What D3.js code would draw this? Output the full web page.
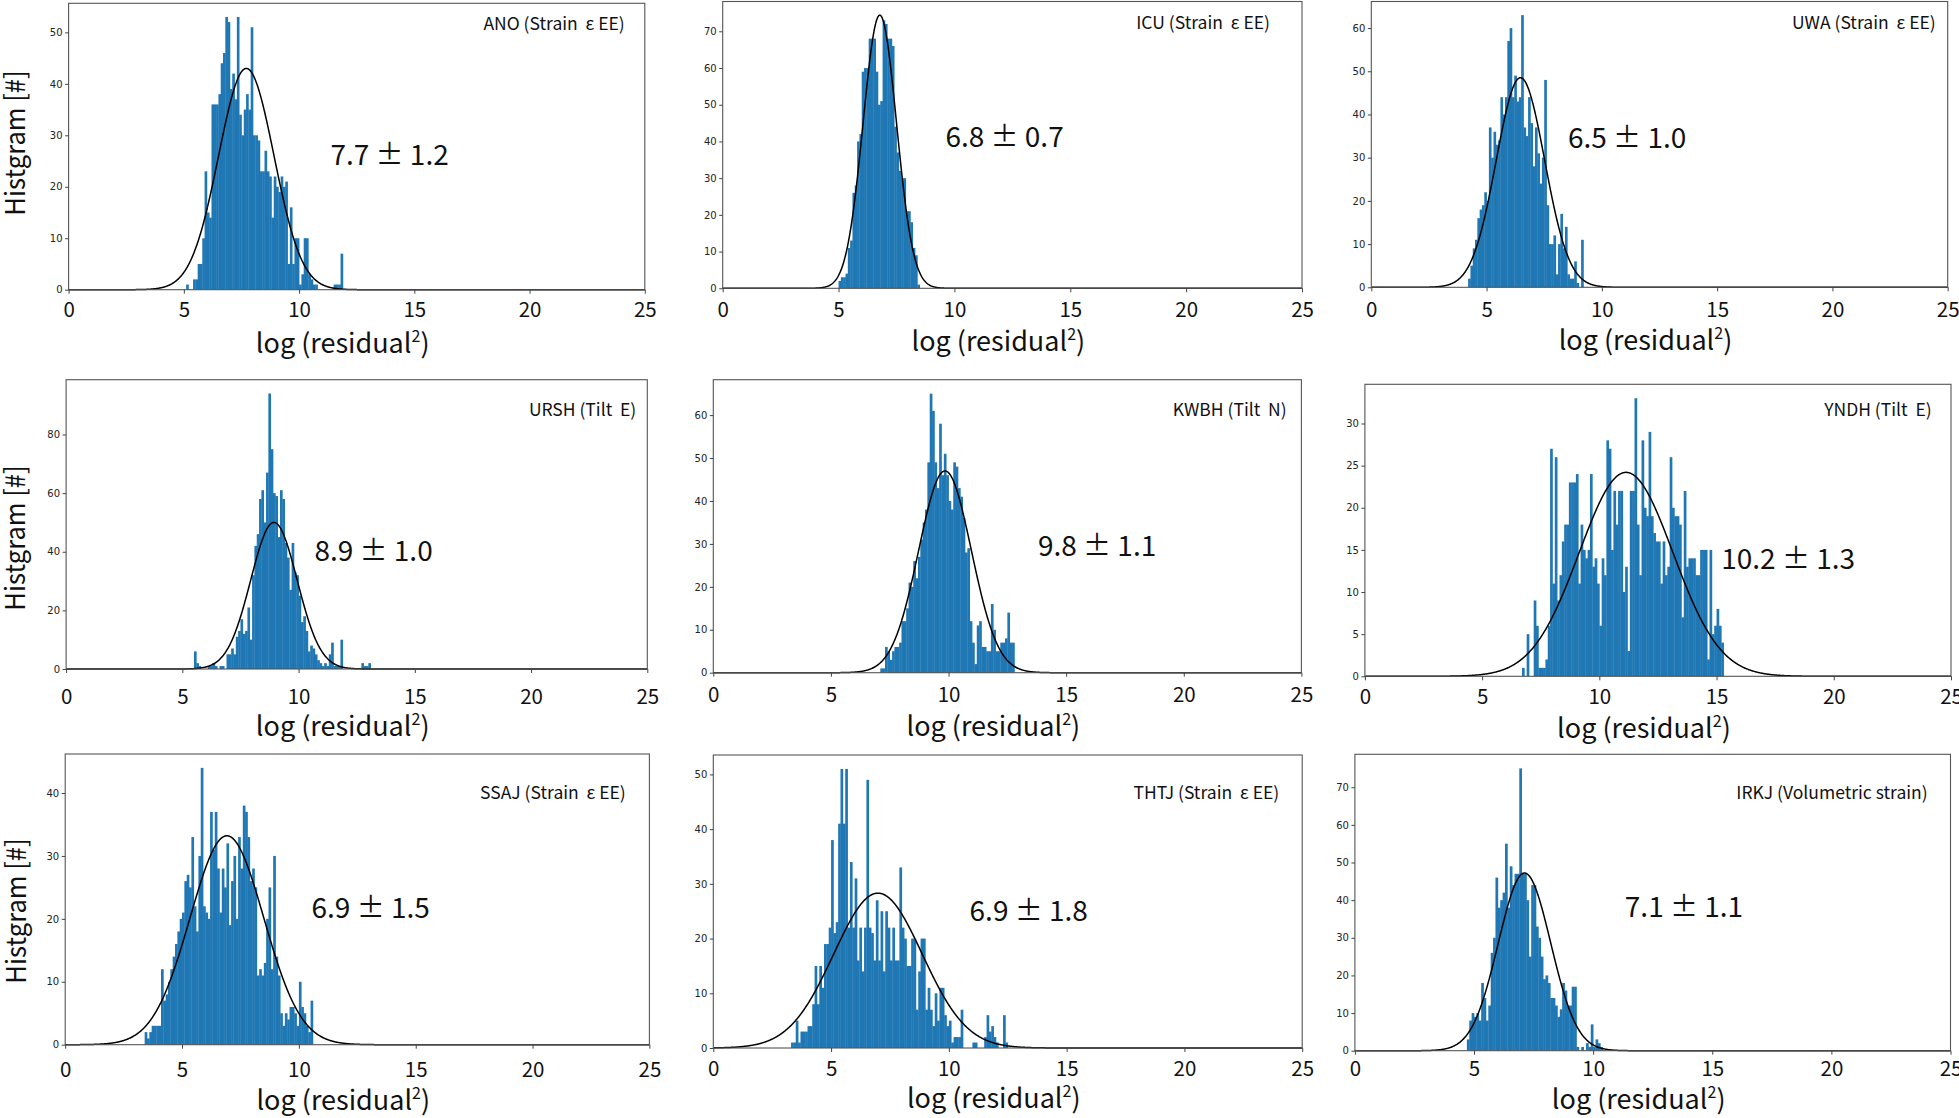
<!DOCTYPE html>
<html><head><meta charset="utf-8">
<script src="https://cdn.jsdelivr.net/npm/d3@7"></script>
<style>body{margin:0;background:#fff} svg{display:block} text{white-space:pre}</style>
</head><body>
<svg id="c" width="1959" height="1118"></svg>
<script>
// ---------------- data ----------------
const stations = ["ANO (Strain  ε EE)", "ICU (Strain  ε EE)", "UWA (Strain  ε EE)",
  "URSH (Tilt  E)", "KWBH (Tilt  N)", "YNDH (Tilt  E)",
  "SSAJ (Strain  ε EE)", "THTJ (Strain  ε EE)", "IRKJ (Volumetric strain)"];
const statMean = ["7.7", "6.8", "6.5", "8.9", "9.8", "10.2", "6.9", "6.9", "7.1"];
const statSd   = ["1.2", "0.7", "1.0", "1.0", "1.1", "1.3", "1.5", "1.8", "1.1"];
const xTicks = [0, 5, 10, 15, 20, 25];
const yTickStep = [10, 10, 10, 20, 10, 5, 10, 10, 10];
const binWidth = 0.1;
const binStart = [5.1, 5.0, 4.2, 5.5, 7.1, 6.6, 3.4, 3.3, 4.7];
const counts1 = [1,0,0,2,2,5,5,10,23,15, 14,36,36,36,38,44,46,53,52,39, 42,37,53,34,30,35,38,35,51,30,
  30,29,23,23,27,23,22,14,22,20, 19,22,20,21,5,16,5,10,10,1, 3,10,10,3,2,1,1,0,0,0, 0,0,0,0,1,1,1,7];
const counts2 = [2,3,3,4,11,13,26,28,40,42, 59,60,60,68,68,68,59,50,51,73, 72,68,68,66,44,37,32,30,30,21, 21,18,11,9,1];
const counts3 = [2,5,9,11,16,18,19,22,20,37, 30,36,33,34,44,40,44,57,60,44, 49,43,44,63,37,35,44,38,28,37,
  31,24,30,48,19,10,10,12,3,10, 17,9,14,3,2,2,6,1,0,11];
const counts4 = [6,2,1,0,0,0,1,1,2,1, 0,1,1,0,5,5,7,5,11,13, 17,12,13,21,10,32,42,46,58,61, 50,67,94,75,60,59,45,61,58,43,
  38,27,43,33,32,25,16,18,13,6, 8,7,5,3,2,1,2,1,5,9, 1,1,1,10,0,0,0,0,0,0, 0,0,2,1,1,2];
const counts5 = [1,1,6,5,3,5,6,6,7,12, 12,15,21,20,26,22,27,31,35,38, 49,65,61,49,43,58,46,51,46,40,
  38,49,48,43,41,36,28,29,12,7, 2,11,12,6,6,5,5,16,10,5, 5,7,7,8,14,7,7];
const counts6 = [0,1,0,5,0,0,9,6,1,1, 1,2,6,27,11,26,9,12,16,18, 18,23,23,23,24,11,18,15,14,15, 24,13,14,11,6,14,12,28,27,15,
  22,18,22,22,10,13,3,22,22,33, 18,12,28,20,19,29,19,17,16,16, 11,16,12,13,26,20,19,19,18,7, 22,13,14,14,14,12,12,15,15,15, 2,15,5,6,8,6,4];
const counts7 = [2,1,2,3,3,3,3,12,7,8, 10,12,14,16,18,20,21,26,27,25, 33,22,18,30,44,22,21,20,37,31, 37,28,21,28,25,32,19,26,30,20,
  33,28,38,37,33,26,28,25,11,12, 11,13,20,25,12,30,14,11,5,3, 5,4,6,6,5,3,10,6,5,3, 2,7];
const counts8 = [1,1,5,1,3,3,3,4,4,8, 15,8,15,11,19,19,22,38,21,23, 41,51,41,51,22,34,22,31,16,22, 14,22,49,22,21,16,27,16,25,14,
  25,22,16,22,16,16,33,22,20,15, 15,20,20,7,14,20,20,7,11,7, 4,10,5,11,11,6,4,5,1,2, 2,2,7,0,0,0,0,1,1,0, 0,0,2,6,3,4,2,1,0,0, 6,1];
const counts9 = [3,8,10,9,10,8,18,14,8,12, 26,30,46,38,40,42,55,38,49,44, 47,47,75,47,47,40,25,44,44,33,
  30,25,19,20,18,14,14,12,9,11, 18,16,12,12,17,17,1,0,1,0, 2,1,7,1,3,2,1];
const allCounts = [counts1, counts2, counts3, counts4, counts5, counts6, counts7, counts8, counts9];
// fitted normal curve drawn in each panel (centre, width, height)
const fitMean = [7.71, 6.78, 6.47, 8.94, 9.85, 11.14, 6.92, 6.99, 7.12];
const fitSd   = [1.2, 0.72, 1.05, 1.0, 1.12, 2.0, 1.58, 1.88, 1.1];
const fitPeak = [43, 74.4, 48.5, 50, 47, 24.2, 33.2, 28.3, 47.2];

// ---------------- layout ----------------
const layout = [
  {box:[68.6,3.3,644.8,289.7],   lab:[20,20],    ann:[11.36,26.1], tickDy:20.3, titleDy:53.6},
  {box:[722.7,1.5,1302,288.3],   lab:[32,21.2],  ann:[9.61,41.2],  tickDy:21.7, titleDy:53.4},
  {box:[1371.3,1.5,1947.7,287.3],lab:[12,21.2],  ann:[8.53,34.6],  tickDy:22.7, titleDy:52.7},
  {box:[66.1,379.7,647.3,669],   lab:[11,29.6],  ann:[10.68,40.4], tickDy:27.7, titleDy:57.7},
  {box:[713.3,379.7,1301.4,672.7],lab:[14.7,29.6],ann:[13.8,29.6], tickDy:22.3, titleDy:54},
  {box:[1364.9,384.3,1951,676.3],lab:[19.3,25],  ann:[15.2,13.9],  tickDy:20.4, titleDy:52},
  {box:[65.2,754,649.4,1044.7],  lab:[23.6,38.3],ann:[10.54,21.7], tickDy:25.3, titleDy:55.3},
  {box:[713.3,755,1302.2,1048],  lab:[23,37.3],  ann:[10.88,25.1], tickDy:20.3, titleDy:50.3},
  {box:[1354.9,754.3,1950.5,1050.7],lab:[22.8,38],ann:[11.33,38.1],tickDy:18,   titleDy:49}
];
const yTitleCenters = [[15,143],[15,538],[16,911]];
const BIG = "'Noto Sans CJK JP','Noto Sans',sans-serif";
const SMALL = "'DejaVu Sans',sans-serif";
const BAR = "#1f77b4";

const svg = d3.select("#c");
svg.append("rect").attr("width",1959).attr("height",1118).attr("fill","#fff");

layout.forEach((L, p) => {
  const [l,t,r,b] = L.box;
  const counts = allCounts[p];
  const ymax = 1.05 * Math.max(d3.max(counts), fitPeak[p]);
  const xs = d3.scaleLinear().domain([0,25]).range([l,r]);
  const ys = d3.scaleLinear().domain([0,ymax]).range([b,t]);
  const g = svg.append("g");

  // bars
  g.append("g").selectAll("rect").data(counts).join("rect")
    .attr("x", (d,i) => xs(binStart[p] + i*binWidth))
    .attr("width", (d,i) => xs(binStart[p] + (i+1)*binWidth) - xs(binStart[p] + i*binWidth) + 0.35)
    .attr("y", d => ys(d))
    .attr("height", d => ys(0) - ys(d))
    .attr("fill", BAR);

  // fitted curve
  const xsPts = d3.range(0, 25.001, 0.02);
  const line = d3.line()
    .x(x => xs(x))
    .y(x => ys(fitPeak[p] * Math.exp(-0.5 * Math.pow((x - fitMean[p]) / fitSd[p], 2))));
  g.append("path").datum(xsPts).attr("d", line)
    .attr("fill","none").attr("stroke","#000").attr("stroke-width",1.5);

  // frame
  g.append("rect").attr("x",l).attr("y",t).attr("width",r-l).attr("height",b-t)
    .attr("fill","none").attr("stroke","#555").attr("stroke-width",1.1);

  // x axis
  const xa = g.append("g").attr("transform",`translate(0,${b})`)
    .call(d3.axisBottom(xs).tickValues(xTicks).tickSize(4).tickSizeOuter(0).tickFormat(d3.format("d")));
  xa.select(".domain").remove();
  xa.selectAll(".tick line").attr("stroke","#444");
  xa.selectAll(".tick text").attr("y", L.tickDy).attr("dy","0.36em")
    .attr("font-family",BIG).attr("font-size",20.5).attr("fill","#111");

  // y axis
  const yt = d3.range(0, ymax, yTickStep[p]);
  const ya = g.append("g").attr("transform",`translate(${l},0)`)
    .call(d3.axisLeft(ys).tickValues(yt).tickSize(3.5).tickSizeOuter(0).tickFormat(d3.format("d")));
  ya.select(".domain").remove();
  ya.selectAll(".tick line").attr("stroke","#444");
  ya.selectAll(".tick text").attr("x",-6).attr("font-family",SMALL).attr("font-size",10).attr("fill","#222");

  // x title
  const xt = g.append("text").attr("x",(l+r)/2 - 14).attr("y", b + L.titleDy).attr("dy","0.36em")
    .attr("text-anchor","middle").attr("font-family",BIG).attr("font-size",27).attr("fill","#111");
  xt.append("tspan").text("log (residual");
  xt.append("tspan").attr("dy",-11).attr("font-size",16).text("2");
  xt.append("tspan").attr("dy",11).text(")");

  // station label
  g.append("text").attr("x", r - L.lab[0]).attr("y", t + L.lab[1]).attr("dy","0.36em")
    .attr("text-anchor","end").attr("font-family",BIG).attr("font-size",17.5).attr("fill","#111")
    .text(stations[p]);

  // mean ± sd annotation
  const an = g.append("text").attr("x", xs(L.ann[0])).attr("y", ys(L.ann[1])).attr("dy","0.36em")
    .attr("font-family",BIG).attr("font-size",28).attr("fill","#111");
  an.append("tspan").text(statMean[p] + " ");
  an.append("tspan").style("font-feature-settings","'fwid'").text("±");
  an.append("tspan").text(" " + statSd[p]);
});

// y titles (left column)
yTitleCenters.forEach(([cx,cy]) => {
  svg.append("text").attr("transform",`translate(${cx},${cy}) rotate(-90) scale(0.93,1)`)
    .attr("text-anchor","middle").attr("dy","0.36em")
    .attr("font-family",BIG).attr("font-size",27.5).attr("fill","#111").text("Histgram [#]");
});
</script>
</body></html>
